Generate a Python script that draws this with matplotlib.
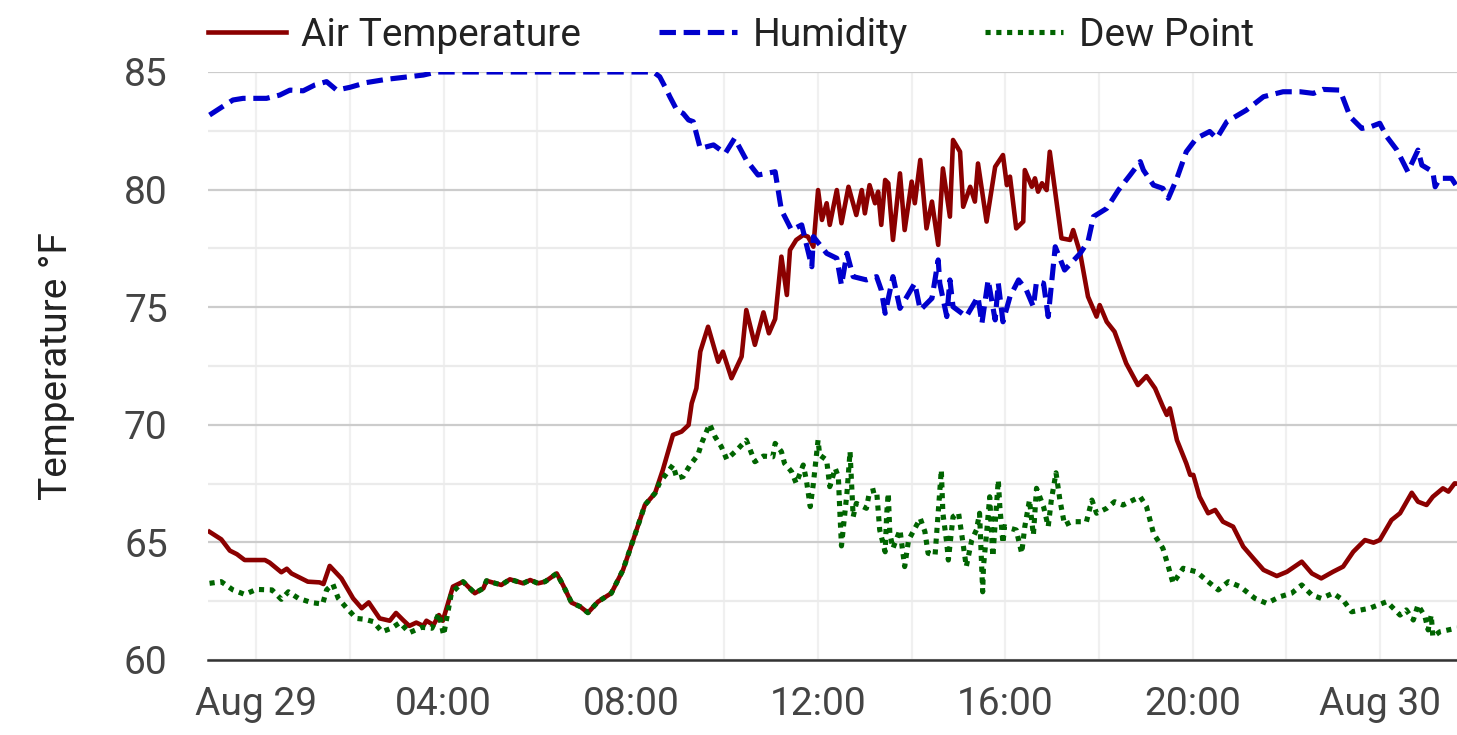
import numpy as np
import pandas as pd
import matplotlib
matplotlib.use('Agg')
import matplotlib.pyplot as plt
import matplotlib.dates as mdates
from matplotlib.ticker import FuncFormatter, MultipleLocator

plt.rcParams['font.family'] = ['Roboto', 'DejaVu Sans']

# minutes after Aug 29 00:00
air_min = [-60, -45, -34, -25, -15, 11, 17, 32, 39, 45, 66, 81, 86, 94, 109, 124, 135, 144, 158,
           171, 179, 188, 196, 205, 214, 218, 227, 234, 239, 252, 265, 280, 291, 295, 314, 325,
           342, 351, 361, 370, 385, 393, 404, 415, 425, 438, 455, 470, 483, 498, 511, 521, 534,
           545, 554, 558, 564, 569, 579, 592, 598, 609, 622, 628, 639, 650, 657, 665, 673, 680,
           684, 692, 701, 707, 714, 720, 725, 731, 735, 744, 750, 759, 769, 776, 780, 786, 793,
           797, 801, 806, 810, 816, 825, 831, 840, 844, 851, 859, 866, 874, 880, 889, 893, 902,
           906, 915, 921, 925, 936, 947, 957, 962, 966, 974, 983, 985, 994, 998, 1002, 1007, 1013,
           1017, 1032, 1043, 1047, 1056, 1066, 1077, 1081, 1090, 1100, 1115, 1130, 1141, 1152,
           1162, 1167, 1171, 1180, 1192, 1197, 1201, 1209, 1220, 1229, 1239, 1252, 1265, 1278,
           1291, 1308, 1321, 1340, 1353, 1365, 1380, 1393, 1406, 1421, 1432, 1440, 1455, 1466,
           1481, 1489, 1500, 1508, 1521, 1528, 1536, 1539]
air_temp = [65.45, 65.13, 64.65, 64.5, 64.25, 64.25, 64.14, 63.73, 63.88, 63.68, 63.33, 63.3, 63.23,
            64.0, 63.47, 62.62, 62.2, 62.45, 61.77, 61.67, 62.0, 61.7, 61.45, 61.59, 61.45, 61.67,
            61.49, 61.91, 61.67, 63.12, 63.33, 62.84, 63.05, 63.37, 63.19, 63.43, 63.26, 63.4,
            63.26, 63.33, 63.68, 63.19, 62.44, 62.27, 62.01, 62.48, 62.84, 63.83, 65.1, 66.59,
            67.09, 68.08, 69.57, 69.71, 69.99, 70.91, 71.55, 73.11, 74.17, 72.68, 73.11, 71.98,
            72.9, 74.88, 73.4, 74.78, 73.89, 74.5, 77.15, 75.52, 77.43, 77.86, 78.07, 78.0, 77.57,
            79.98, 78.71, 79.42, 78.5, 79.98, 78.57, 80.12, 78.92, 79.98, 78.99, 80.19, 79.42,
            79.91, 78.5, 80.41, 80.27, 77.86, 80.69, 78.28, 80.34, 79.42, 81.26, 78.35, 79.49,
            77.65, 80.9, 78.85, 82.11, 81.61, 79.27, 80.12, 79.49, 81.11, 78.64, 80.97, 81.47,
            80.19, 80.55, 78.35, 78.64, 80.83, 80.12, 80.48, 79.91, 80.27, 79.98, 81.61, 77.93,
            77.86, 78.28, 77.29, 75.45, 74.6, 75.09, 74.38, 73.96, 72.61, 71.69, 72.07, 71.55,
            70.77, 70.42, 70.7, 69.35, 68.36, 67.87, 67.87, 66.94, 66.24, 66.38, 65.88, 65.67,
            64.82, 64.32, 63.83, 63.57, 63.75, 64.18, 63.68, 63.47, 63.75, 63.97, 64.6, 65.1,
            64.99, 65.1, 65.95, 66.24, 67.11, 66.73, 66.59, 66.94, 67.3, 67.16, 67.51, 67.5]

hum_min = [-60, -47, -30, -17, 13, 30, 43, 60, 75, 90, 103, 120, 141, 167, 188, 214, 231, 509,
           517, 526, 530, 539, 547, 554, 560, 569, 586, 601, 613, 628, 643, 654, 665, 673, 686,
           699, 712, 714, 731, 744, 750, 757, 765, 782, 795, 801, 806, 816, 825, 844, 851, 866,
           874, 876, 885, 889, 893, 910, 925, 930, 938, 947, 951, 957, 966, 977, 987, 996, 1000,
           1009, 1015, 1024, 1036, 1056, 1066, 1073, 1090, 1105, 1120, 1133, 1137, 1150, 1162,
           1169, 1180, 1192, 1205, 1222, 1231, 1244, 1269, 1291, 1316, 1338, 1355, 1367, 1389,
           1402, 1417, 1429, 1440, 1449, 1462, 1476, 1489, 1494, 1508, 1511, 1517, 1532, 1539]
humidity = [83.17, 83.45, 83.81, 83.88, 83.88, 84.02, 84.23, 84.2, 84.45, 84.59, 84.23, 84.35,
            84.55, 84.69, 84.77, 84.87, 85.0, 85.0, 84.8, 84.23, 83.95, 83.38, 83.24, 82.96, 82.89,
            81.75, 81.9, 81.54, 82.18, 81.26, 80.62, 80.69, 80.76, 79.13, 78.28, 78.5, 76.72, 78.0,
            77.29, 77.08, 75.94, 77.29, 76.3, 76.16, 76.3, 75.73, 74.74, 76.3, 74.95, 76.02, 74.88,
            75.38, 77.01, 76.02, 74.6, 76.16, 75.02, 74.6, 75.45, 74.31, 76.16, 74.46, 76.02, 74.38,
            75.45, 76.16, 75.73, 75.02, 76.09, 76.02, 74.6, 77.57, 76.58, 77.29, 77.79, 78.85,
            79.2, 79.98, 80.62, 81.19, 80.83, 80.19, 80.05, 79.63, 80.48, 81.61, 82.18, 82.47,
            82.18, 82.89, 83.38, 83.95, 84.16, 84.16, 84.09, 84.26, 84.23, 83.1, 82.6, 82.68,
            82.82, 82.25, 81.68, 80.76, 81.68, 81.04, 80.76, 80.12, 80.48, 80.48, 80.12]

dew_min = [-60, -45, -30, -15, 0, 20, 32, 41, 54, 71, 85, 90, 98, 105, 116, 128, 139, 150, 161,
           173, 184, 196, 212, 225, 234, 240, 250, 265, 280, 291, 295, 314, 325, 342, 351, 361,
           370, 385, 393, 404, 415, 425, 438, 455, 470, 483, 498, 511, 517, 534, 539, 547, 556,
           566, 571, 581, 588, 596, 603, 616, 628, 639, 650, 662, 665, 673, 677, 686, 692, 701,
           705, 710, 714, 720, 722, 731, 735, 742, 746, 748, 750, 757, 761, 765, 769, 782, 786,
           795, 799, 806, 808, 810, 812, 816, 825, 831, 836, 851, 857, 861, 870, 872, 878, 880,
           885, 887, 893, 900, 904, 910, 917, 923, 927, 931, 932, 936, 940, 944, 951, 953, 957,
           959, 974, 981, 985, 991, 996, 1000, 1009, 1015, 1019, 1025, 1030, 1036, 1045, 1064,
           1071, 1077, 1090, 1100, 1111, 1124, 1133, 1141, 1150, 1162, 1169, 1175, 1188, 1205,
           1220, 1233, 1246, 1261, 1280, 1295, 1312, 1327, 1340, 1353, 1365, 1380, 1393, 1404,
           1427, 1449, 1466, 1474, 1483, 1489, 1498, 1502, 1506, 1508, 1517, 1528, 1539]
dew_point = [63.26, 63.33, 62.98, 62.79, 63.0, 62.98, 62.58, 62.9, 62.62, 62.44, 62.38, 62.98,
             63.23, 62.62, 62.2, 61.77, 61.73, 61.63, 61.2, 61.35, 61.59, 61.16, 61.39, 61.35,
             61.98, 61.06, 62.84, 63.33, 62.84, 63.05, 63.37, 63.19, 63.43, 63.26, 63.4, 63.26,
             63.33, 63.68, 63.19, 62.44, 62.27, 62.01, 62.48, 62.84, 63.83, 65.1, 66.59, 67.09,
             67.54, 68.29, 67.73, 67.8, 68.29, 68.72, 69.24, 70.03, 69.49, 69.07, 68.53, 68.93,
             69.35, 68.43, 68.67, 68.64, 69.21, 68.86, 68.36, 68.01, 67.51, 68.29, 67.65, 66.52,
             67.51, 69.35, 68.72, 68.5, 67.37, 68.15, 67.79, 66.24, 64.85, 67.09, 68.86, 66.09,
             66.66, 66.45, 67.16, 67.23, 65.53, 64.6, 66.24, 67.09, 65.38, 64.75, 65.53, 63.97,
             65.1, 66.02, 65.45, 64.54, 64.46, 65.38, 68.08, 66.24, 64.96, 64.25, 66.09, 66.26,
             65.38, 63.97, 65.1, 65.53, 66.24, 62.9, 63.97, 65.38, 66.94, 64.39, 67.65, 66.52,
             64.96, 65.67, 65.53, 64.54, 65.67, 66.8, 65.31, 67.3, 66.52, 65.67, 66.8, 67.96, 66.8,
             65.74, 65.88, 65.88, 66.8, 66.24, 66.45, 66.73, 66.59, 66.8, 66.94, 66.52, 65.38,
             64.75, 63.97, 63.26, 63.9, 63.75, 63.33, 62.98, 63.33, 63.12, 62.62, 62.41, 62.69,
             62.84, 63.19, 62.76, 62.62, 62.84, 62.55, 62.05, 62.2, 62.48, 61.91, 62.13, 61.7,
             62.34, 61.84, 61.28, 61.91, 60.99, 61.2, 61.28, 61.36]

start = pd.Timestamp('2023-08-29 00:00')


def to_time(mins):
    return start + pd.to_timedelta(np.array(mins, dtype=float), unit='m')


fig = plt.figure(figsize=(14.57, 7.35), dpi=100)
ax = fig.add_axes([208 / 1457, 75 / 735, 1249 / 1457, 588 / 735])

ax.plot(to_time(air_min), air_temp, color='#8b0000', lw=3.3, label='Air Temperature', zorder=3)
ax.plot(to_time(hum_min), humidity, color='#0000cd', lw=3.7, dashes=(3.2, 1.5),
        label='Humidity', zorder=3)
ax.plot(to_time(dew_min), dew_point, color='#006400', lw=3.7, dashes=(1.0, 1.1),
        label='Dew Point', zorder=4)

ax.set_xlim(start + pd.Timedelta(minutes=-62), start + pd.Timedelta(minutes=1539))
ax.set_ylim(60, 85)

ax.yaxis.set_major_locator(MultipleLocator(5))
ax.yaxis.set_minor_locator(MultipleLocator(2.5))
ax.xaxis.set_major_locator(mdates.HourLocator(byhour=range(0, 24, 4)))
ax.xaxis.set_minor_locator(mdates.HourLocator(byhour=range(0, 24, 2)))


def fmt_date(x, pos=None):
    d = mdates.num2date(x)
    if d.hour == 0:
        return d.strftime('%b %d')
    return d.strftime('%H:%M')


ax.xaxis.set_major_formatter(FuncFormatter(fmt_date))

ax.grid(axis='y', which='major', color='#cccccc', lw=1.6, zorder=0)
ax.grid(axis='y', which='minor', color='#ebebeb', lw=1.6, zorder=0)
ax.grid(axis='x', which='both', color='#f0f0f0', lw=1.6, zorder=0)
ax.set_axisbelow(True)

for s in ['top', 'right', 'left']:
    ax.spines[s].set_visible(False)
ax.spines['bottom'].set_color('#333333')
ax.spines['bottom'].set_linewidth(1.8)

ax.tick_params(axis='both', which='both', length=0)
ax.tick_params(axis='x', labelsize=28, labelcolor='#444444', pad=19)
ax.tick_params(axis='y', labelsize=28, labelcolor='#444444', pad=29)

ax.set_ylabel('Temperature °F', fontsize=28, color='#222222')
ax.yaxis.set_label_coords(-133 / 1249, 0.5)

ax.legend(loc='center left', bbox_to_anchor=(0, 1 + 37 / 588), ncol=3, frameon=False,
          fontsize=28, labelcolor='#222222', borderpad=0, borderaxespad=0,
          handlelength=2.0, handletextpad=0.4, columnspacing=2.0)

fig.savefig('out.png', dpi=100)
